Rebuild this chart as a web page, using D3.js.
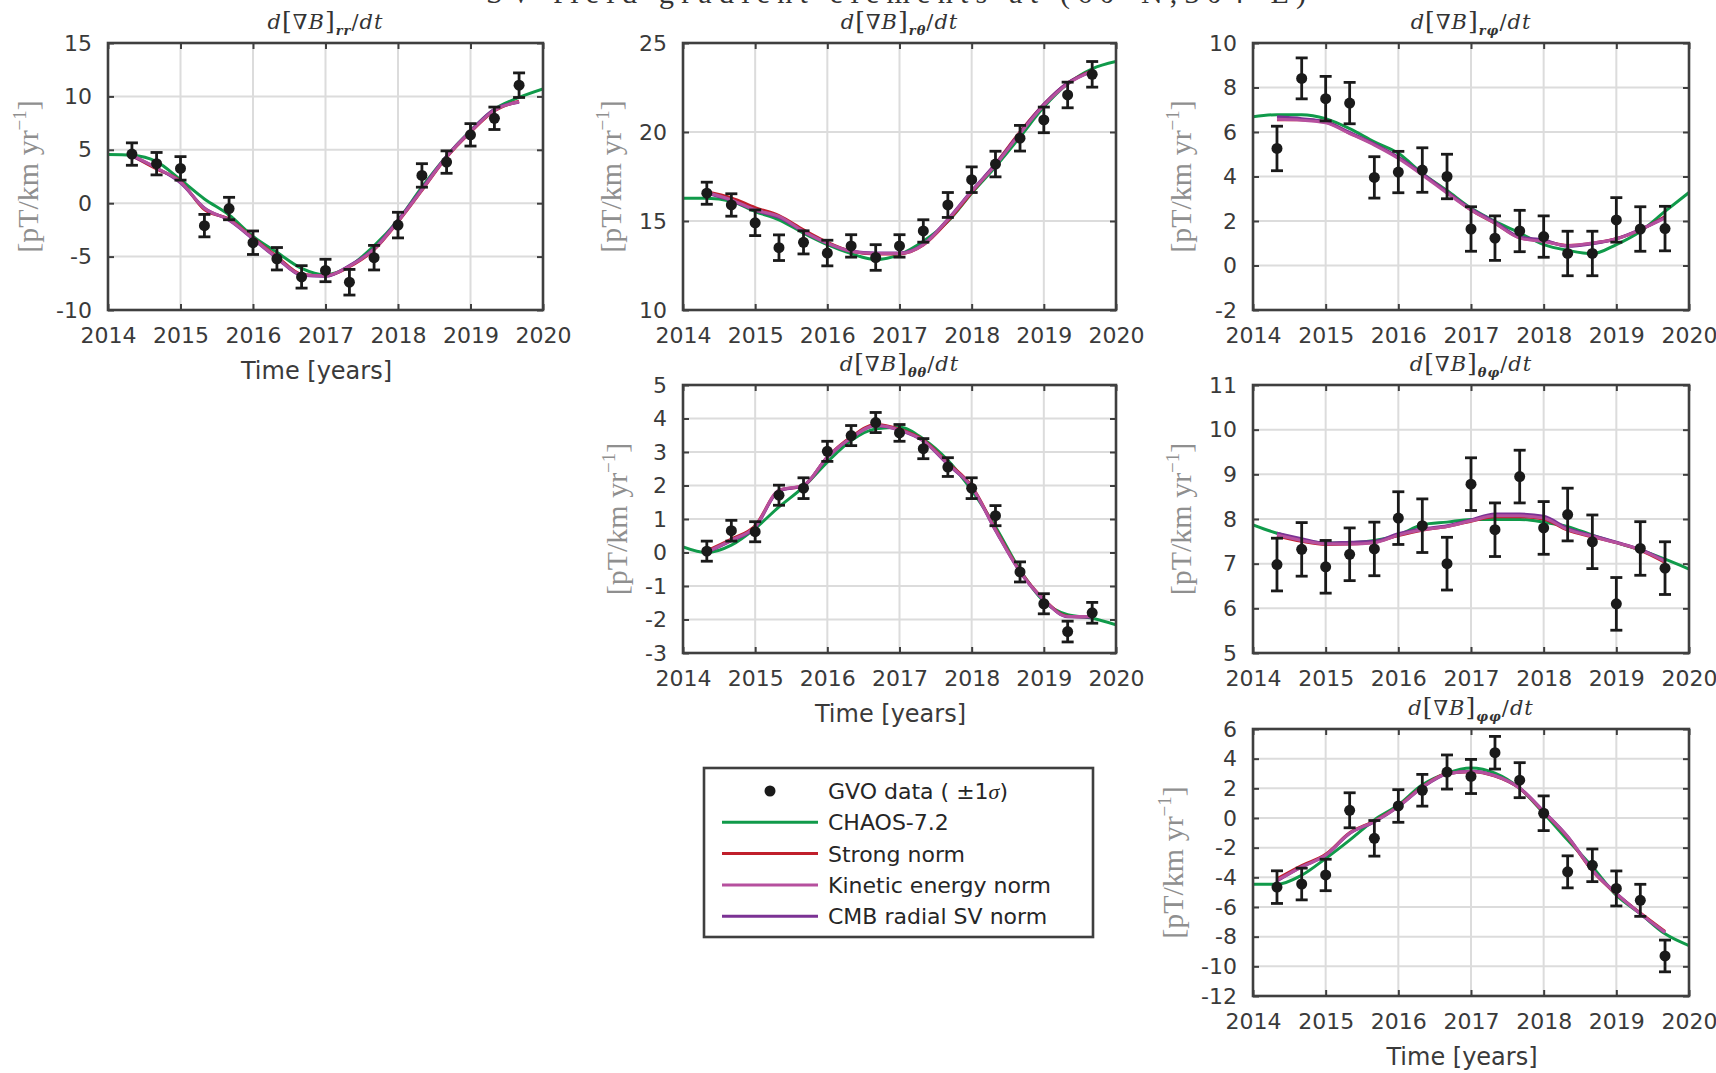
<!DOCTYPE html>
<html>
<head>
<meta charset="utf-8">
<script src="https://cdn.jsdelivr.net/npm/d3@7"></script>
<style>
body { margin: 0; background: #fff; }
svg { display: block; }
</style>
</head>
<body>
<svg id="chart" width="1716" height="1073"></svg>
<script>
// GVO sample epochs (4-monthly) and model epochs
const gvoYears = [2014.33, 2014.67, 2015.0, 2015.33, 2015.67, 2016.0, 2016.33, 2016.67, 2017.0, 2017.33, 2017.67, 2018.0, 2018.33, 2018.67, 2019.0, 2019.33, 2019.67]
const chaosYears = [2014.0, 2014.33, 2014.67, 2015.0, 2015.33, 2015.67, 2016.0, 2016.33, 2016.67, 2017.0, 2017.33, 2017.67, 2018.0, 2018.33, 2018.67, 2019.0, 2019.33, 2019.67, 2020.0]
const xTicks = [2014, 2015, 2016, 2017, 2018, 2019, 2020]

// d[grad B]_rr/dt
const rrObs = [4.6, 3.7, 3.26, -2.1, -0.5, -3.7, -5.2, -6.9, -6.3, -7.4, -5.1, -2.05, 2.6, 3.85, 6.4, 7.95, 11.05]
const rrSigma = [1.05, 1.05, 1.1, 1.05, 1.05, 1.1, 1.05, 1.05, 1.05, 1.2, 1.15, 1.2, 1.1, 1.05, 1.05, 1.05, 1.15]
const rrChaos = [4.56, 4.5, 3.9, 2.2, 0.4, -1.1, -3.1, -4.6, -6.1, -6.7, -5.9, -4.0, -1.6, 1.5, 4.4, 6.8, 8.8, 9.9, 10.7]
const rrStrong = [4.45, 3.2, 2.05, -0.6, -1.5, -3.25, -5.0, -6.65, -6.8, -5.95, -4.35, -1.75, 1.2, 4.3, 6.65, 8.65, 9.55]
const rrKinetic = [4.5, 3.3, 2.0, -0.5, -1.55, -3.3, -5.1, -6.7, -6.8, -5.9, -4.3, -1.7, 1.25, 4.35, 6.7, 8.7, 9.5]
const rrCmb = [4.4, 3.3, 1.9, -0.45, -1.6, -3.35, -5.15, -6.75, -6.85, -5.85, -4.25, -1.6, 1.35, 4.4, 6.75, 8.8, 9.45]
const rrTicks = [-10, -5, 0, 5, 10, 15]

// d[grad B]_rtheta/dt
const rtObs = [16.56, 15.9, 14.9, 13.5, 13.8, 13.2, 13.6, 12.95, 13.6, 14.44, 15.9, 17.32, 18.2, 19.65, 20.68, 22.08, 23.24]
const rtSigma = [0.62, 0.63, 0.72, 0.72, 0.65, 0.72, 0.63, 0.72, 0.63, 0.63, 0.7, 0.72, 0.72, 0.72, 0.72, 0.72, 0.72]
const rtChaos = [16.28, 16.28, 16.1, 15.53, 15.07, 14.32, 13.67, 13.17, 12.83, 13.11, 13.86, 14.97, 16.56, 18.05, 19.73, 21.4, 22.7, 23.55, 23.96]
const rtStrong = [16.65, 16.3, 15.75, 15.3, 14.5, 13.8, 13.3, 13.15, 13.15, 13.65, 15.0, 16.6, 18.2, 20.0, 21.55, 22.75, 23.45]
const rtKinetic = [16.6, 16.19, 15.63, 15.26, 14.42, 13.76, 13.3, 13.17, 13.17, 13.67, 15.07, 16.65, 18.14, 19.91, 21.5, 22.7, 23.42]
const rtCmb = [16.55, 16.15, 15.6, 15.2, 14.4, 13.75, 13.3, 13.2, 13.2, 13.7, 15.1, 16.7, 18.2, 19.95, 21.55, 22.75, 23.4]
const rtTicks = [10, 15, 20, 25]

// d[grad B]_rphi/dt
const rpObs = [5.26, 8.41, 7.5, 7.3, 3.96, 4.2, 4.29, 4.0, 1.64, 1.23, 1.55, 1.3, 0.54, 0.54, 2.05, 1.64, 1.66]
const rpSigma = [1.0, 0.92, 1.0, 0.93, 0.93, 0.93, 1.0, 1.0, 1.0, 1.0, 0.93, 0.93, 1.0, 1.0, 1.0, 1.0, 1.0]
const rpChaos = [6.68, 6.78, 6.78, 6.6, 6.15, 5.56, 5.04, 4.14, 3.37, 2.58, 1.98, 1.46, 0.94, 0.68, 0.53, 0.94, 1.53, 2.43, 3.28]
const rpStrong = [6.55, 6.55, 6.45, 5.95, 5.45, 4.85, 4.1, 3.3, 2.5, 1.9, 1.25, 1.1, 0.9, 1.0, 1.2, 1.6, 2.2]
const rpKinetic = [6.57, 6.53, 6.41, 5.93, 5.41, 4.81, 4.07, 3.25, 2.5, 1.9, 1.23, 1.08, 0.89, 1.01, 1.19, 1.61, 2.13]
const rpCmb = [6.68, 6.6, 6.45, 5.98, 5.46, 4.86, 4.12, 3.3, 2.55, 1.95, 1.28, 1.15, 0.86, 0.98, 1.2, 1.62, 2.15]
const rpTicks = [-2, 0, 2, 4, 6, 8, 10]

// d[grad B]_thetatheta/dt
const ttObs = [0.04, 0.65, 0.62, 1.71, 1.92, 3.02, 3.49, 3.88, 3.57, 3.1, 2.55, 1.92, 1.1, -0.58, -1.53, -2.36, -1.8]
const ttSigma = [0.3, 0.31, 0.3, 0.3, 0.31, 0.3, 0.3, 0.3, 0.25, 0.3, 0.28, 0.31, 0.3, 0.3, 0.3, 0.31, 0.31]
const ttChaos = [0.17, 0.0, 0.22, 0.72, 1.36, 1.96, 2.7, 3.34, 3.69, 3.74, 3.39, 2.75, 1.86, 0.77, -0.52, -1.46, -1.86, -1.96, -2.16]
const ttStrong = [0.05, 0.4, 0.8, 1.85, 2.0, 2.85, 3.45, 3.82, 3.68, 3.36, 2.68, 1.98, 0.7, -0.55, -1.4, -1.9, -1.92]
const ttKinetic = [0.02, 0.37, 0.77, 1.86, 2.01, 2.85, 3.42, 3.79, 3.66, 3.34, 2.65, 1.96, 0.67, -0.57, -1.41, -1.91, -1.91]
const ttCmb = [0.0, 0.35, 0.75, 1.84, 2.0, 2.84, 3.42, 3.78, 3.65, 3.33, 2.63, 1.95, 0.66, -0.58, -1.42, -1.92, -1.93]
const ttTicks = [-3, -2, -1, 0, 1, 2, 3, 4, 5]

// d[grad B]_thetaphi/dt
const tpObs = [6.98, 7.32, 6.93, 7.21, 7.33, 8.02, 7.85, 7.0, 8.78, 7.76, 8.95, 7.8, 8.1, 7.49, 6.1, 7.34, 6.9]
const tpSigma = [0.59, 0.6, 0.59, 0.59, 0.6, 0.59, 0.6, 0.59, 0.59, 0.6, 0.59, 0.59, 0.59, 0.6, 0.59, 0.6, 0.59]
const tpChaos = [7.87, 7.68, 7.53, 7.46, 7.47, 7.52, 7.64, 7.87, 7.93, 7.99, 7.99, 7.99, 7.93, 7.83, 7.64, 7.47, 7.31, 7.1, 6.88]
const tpStrong = [7.62, 7.5, 7.43, 7.44, 7.48, 7.63, 7.75, 7.83, 7.95, 8.05, 8.05, 8.0, 7.75, 7.6, 7.47, 7.3, 7.03]
const tpKinetic = [7.64, 7.52, 7.44, 7.44, 7.47, 7.64, 7.76, 7.83, 7.96, 8.07, 8.07, 8.02, 7.76, 7.61, 7.47, 7.31, 7.05]
const tpCmb = [7.68, 7.56, 7.46, 7.48, 7.5, 7.67, 7.78, 7.85, 7.98, 8.11, 8.11, 8.06, 7.79, 7.63, 7.48, 7.32, 7.07]
const tpTicks = [5, 6, 7, 8, 9, 10, 11]

// d[grad B]_phiphi/dt
const ppObs = [-4.66, -4.45, -3.84, 0.52, -1.37, 0.81, 1.87, 3.1, 2.8, 4.4, 2.55, 0.32, -3.63, -3.19, -4.75, -5.55, -9.3]
const ppSigma = [1.1, 1.07, 1.06, 1.18, 1.2, 1.1, 1.07, 1.15, 1.15, 1.1, 1.18, 1.17, 1.08, 1.1, 1.18, 1.08, 1.07]
const ppChaos = [-4.47, -4.47, -3.86, -2.73, -1.49, -0.13, 0.88, 2.24, 3.03, 3.37, 3.03, 2.01, 0.32, -1.49, -3.29, -5.21, -6.45, -7.81, -8.6]
const ppStrong = [-4.1, -3.2, -2.45, -1.0, -0.2, 0.8, 2.1, 3.0, 3.12, 2.83, 2.0, 0.4, -1.3, -3.55, -5.12, -6.4, -7.65]
const ppKinetic = [-4.2, -3.29, -2.5, -1.03, -0.24, 0.77, 2.08, 2.98, 3.14, 2.85, 2.01, 0.43, -1.26, -3.52, -5.1, -6.45, -7.7]
const ppCmb = [-4.25, -3.3, -2.52, -1.05, -0.26, 0.75, 2.05, 2.96, 3.15, 2.86, 2.02, 0.45, -1.24, -3.5, -5.08, -6.46, -7.72]
const ppTicks = [-12, -10, -8, -6, -4, -2, 0, 2, 4, 6]

const legendLabels = ["GVO data ( \u00b11", "CHAOS-7.2", "Strong norm", "Kinetic energy norm", "CMB radial SV norm"]
const figTitle = "SV field gradient elements at (60\u00b0N,304\u00b0E)"

const colors = {chaos: "#109a4a", strong: "#c01f2b", kinetic: "#b6509e", cmb: "#7b3294"}
const axisColor = "#3f3f3f"
const sansFont = "'DejaVu Sans', Verdana, sans-serif"
const serifFont = "'Liberation Serif', 'DejaVu Serif', serif"
const mathFont = "'DejaVu Serif', serif"

const svg = d3.select("#chart")

const panels = [
    {comp: "rr", obs: rrObs, sigma: rrSigma, chaos: rrChaos, strong: rrStrong, kinetic: rrKinetic, cmb: rrCmb, ticks: rrTicks,
        box: {x: 108, y: 43, w: 435, h: 267}, xlabel: true},
    {comp: "r\u03b8", obs: rtObs, sigma: rtSigma, chaos: rtChaos, strong: rtStrong, kinetic: rtKinetic, cmb: rtCmb, ticks: rtTicks,
        box: {x: 683, y: 43, w: 433, h: 267}, xlabel: false},
    {comp: "r\u03c6", obs: rpObs, sigma: rpSigma, chaos: rpChaos, strong: rpStrong, kinetic: rpKinetic, cmb: rpCmb, ticks: rpTicks,
        box: {x: 1253, y: 43, w: 436, h: 267}, xlabel: false},
    {comp: "\u03b8\u03b8", obs: ttObs, sigma: ttSigma, chaos: ttChaos, strong: ttStrong, kinetic: ttKinetic, cmb: ttCmb, ticks: ttTicks,
        box: {x: 683, y: 385, w: 433, h: 268}, xlabel: true},
    {comp: "\u03b8\u03c6", obs: tpObs, sigma: tpSigma, chaos: tpChaos, strong: tpStrong, kinetic: tpKinetic, cmb: tpCmb, ticks: tpTicks,
        box: {x: 1253, y: 385, w: 436, h: 268}, xlabel: false},
    {comp: "\u03c6\u03c6", obs: ppObs, sigma: ppSigma, chaos: ppChaos, strong: ppStrong, kinetic: ppKinetic, cmb: ppCmb, ticks: ppTicks,
        box: {x: 1253, y: 729, w: 436, h: 267}, xlabel: true}
]

// figure title, cut off at the top edge like the original
svg.append("text")
    .attr("x", 896).attr("y", 3)
    .attr("text-anchor", "middle")
    .attr("font-family", serifFont)
    .attr("font-size", 30)
    .attr("fill", "#333")
    .attr("textLength", 820)
    .attr("lengthAdjust", "spacing")
    .text(figTitle)

panels.forEach(drawPanel)
drawLegend()

function drawPanel(p) {
    const b = p.box
    const x = d3.scaleLinear().domain([2014, 2020]).range([b.x, b.x + b.w])
    const y = d3.scaleLinear().domain(d3.extent(p.ticks)).range([b.y + b.h, b.y])
    const g = svg.append("g")

    g.append("rect")
        .attr("x", b.x).attr("y", b.y).attr("width", b.w).attr("height", b.h)
        .attr("fill", "#fff")

    // grid
    g.append("g").selectAll("line")
        .data(xTicks.slice(1, -1))
        .join("line")
        .attr("x1", d => x(d)).attr("x2", d => x(d))
        .attr("y1", b.y).attr("y2", b.y + b.h)
        .attr("stroke", "#dcdcdc").attr("stroke-width", 2)
    g.append("g").selectAll("line")
        .data(p.ticks.slice(1, -1))
        .join("line")
        .attr("y1", d => y(d)).attr("y2", d => y(d))
        .attr("x1", b.x).attr("x2", b.x + b.w)
        .attr("stroke", "#dcdcdc").attr("stroke-width", 2)

    // model curves
    const clipId = "clip-" + panels.indexOf(p)
    g.append("clipPath").attr("id", clipId)
        .append("rect").attr("x", b.x).attr("y", b.y).attr("width", b.w).attr("height", b.h)
    const curves = g.append("g").attr("clip-path", `url(#${clipId})`)
    const line = d3.line().x(d => x(d[0])).y(d => y(d[1])).curve(d3.curveMonotoneX)

    curves.append("path")
        .attr("d", line(d3.zip(chaosYears, p.chaos)))
        .attr("fill", "none").attr("stroke", colors.chaos).attr("stroke-width", 3)
    const models = [["strong", p.strong], ["cmb", p.cmb], ["kinetic", p.kinetic]]
    models.forEach(([key, vals]) => {
        curves.append("path")
            .attr("d", line(d3.zip(gvoYears, vals)))
            .attr("fill", "none").attr("stroke", colors[key]).attr("stroke-width", 3)
    })

    // GVO data with error bars
    const obs = d3.zip(gvoYears, p.obs, p.sigma)
    const bars = g.append("g").selectAll("g")
        .data(obs)
        .join("g")
        .attr("stroke", "#1a1a1a").attr("stroke-width", 2.8)
    bars.append("line")
        .attr("x1", d => x(d[0])).attr("x2", d => x(d[0]))
        .attr("y1", d => y(d[1] - d[2])).attr("y2", d => y(d[1] + d[2]))
    bars.append("line")
        .attr("x1", d => x(d[0]) - 6).attr("x2", d => x(d[0]) + 6)
        .attr("y1", d => y(d[1] - d[2])).attr("y2", d => y(d[1] - d[2]))
    bars.append("line")
        .attr("x1", d => x(d[0]) - 6).attr("x2", d => x(d[0]) + 6)
        .attr("y1", d => y(d[1] + d[2])).attr("y2", d => y(d[1] + d[2]))
    g.append("g").selectAll("circle")
        .data(obs)
        .join("circle")
        .attr("cx", d => x(d[0])).attr("cy", d => y(d[1]))
        .attr("r", 5.5)
        .attr("fill", "#1a1a1a")

    // axes, ticks pointing inward
    const fmt = d => String(d)
    g.append("g")
        .attr("transform", `translate(0,${b.y + b.h})`)
        .call(d3.axisBottom(x).tickValues(xTicks).tickSize(-6).tickPadding(17).tickFormat(fmt))
    const left = g.append("g")
        .attr("transform", `translate(${b.x},0)`)
        .call(d3.axisLeft(y).tickValues(p.ticks).tickSize(-6).tickPadding(16).tickFormat(fmt))
    g.append("g")
        .attr("transform", `translate(0,${b.y})`)
        .call(d3.axisTop(x).tickValues(xTicks).tickSize(-6).tickFormat(""))
    g.append("g")
        .attr("transform", `translate(${b.x + b.w},0)`)
        .call(d3.axisRight(y).tickValues(p.ticks).tickSize(-6).tickFormat(""))

    g.selectAll(".domain").remove()
    g.selectAll(".tick line").attr("stroke", axisColor).attr("stroke-width", 2)
    g.selectAll(".tick text")
        .attr("fill", "#3a3a3a")
        .attr("font-family", sansFont)
        .attr("font-size", 22)

    g.append("rect")
        .attr("x", b.x).attr("y", b.y).attr("width", b.w).attr("height", b.h)
        .attr("fill", "none").attr("stroke", axisColor).attr("stroke-width", 2.6)

    // panel title d[grad B]_ij/dt
    const title = g.append("text")
        .attr("x", b.x + b.w / 2).attr("y", b.y - 14)
        .attr("text-anchor", "middle")
        .attr("font-family", mathFont)
        .attr("font-size", 21)
        .attr("letter-spacing", 1)
        .attr("fill", "#333")
    title.append("tspan").attr("font-style", "italic").text("d")
    title.append("tspan").attr("font-size", 25).text("[")
    title.append("tspan").text("\u2207")
    title.append("tspan").attr("font-style", "italic").text("B")
    title.append("tspan").attr("font-size", 25).text("]")
    title.append("tspan").attr("font-size", 13).attr("font-style", "italic").attr("font-weight", "bold")
        .attr("dy", 6).text(p.comp)
    title.append("tspan").attr("dy", -6).text("/")
    title.append("tspan").attr("font-style", "italic").text("dt")

    // y label, placed left of the tick labels
    const lb = left.node().getBBox()
    const ylab = g.append("text")
        .attr("transform", `translate(${b.x + lb.x - 18},${b.y + b.h / 2}) rotate(-90)`)
        .attr("text-anchor", "middle")
        .attr("font-family", serifFont)
        .attr("font-size", 30)
        .attr("fill", "#8f8f8f")
    ylab.append("tspan").text("[pT/km yr")
    ylab.append("tspan").attr("font-size", 19).attr("dy", -12).text("\u22121")
    ylab.append("tspan").attr("dy", 12).text("]")

    if (p.xlabel) {
        g.append("text")
            .attr("x", b.x + b.w / 2 - 9).attr("y", b.y + b.h + 69)
            .attr("text-anchor", "middle")
            .attr("font-family", sansFont)
            .attr("font-size", 24)
            .attr("fill", "#3a3a3a")
            .text("Time [years]")
    }
}

function drawLegend() {
    const box = {x: 704, y: 768, w: 389, h: 169}
    const lg = svg.append("g")
    lg.append("rect")
        .attr("x", box.x).attr("y", box.y).attr("width", box.w).attr("height", box.h)
        .attr("fill", "#fff").attr("stroke", axisColor).attr("stroke-width", 2.6)
    const keys = [null, "chaos", "strong", "kinetic", "cmb"]
    const rows = lg.selectAll("g")
        .data(legendLabels)
        .join("g")
        .attr("transform", (d, i) => `translate(0,${box.y + 23 + i * 31.3})`)
    rows.each(function (d, i) {
        const row = d3.select(this)
        if (keys[i] === null) {
            row.append("circle").attr("cx", 770).attr("cy", 0).attr("r", 5.5).attr("fill", "#1a1a1a")
        } else {
            row.append("line").attr("x1", 722).attr("x2", 818)
                .attr("stroke", colors[keys[i]]).attr("stroke-width", 3)
        }
        const t = row.append("text")
            .attr("x", 828).attr("dy", "0.36em")
            .attr("font-family", sansFont)
            .attr("font-size", 22)
            .attr("fill", "#262626")
            .text(d)
        if (i === 0) {
            t.append("tspan").attr("font-family", serifFont).attr("font-style", "italic").text("\u03c3")
            t.append("tspan").text(")")
        }
    })
}
</script>
</body>
</html>
